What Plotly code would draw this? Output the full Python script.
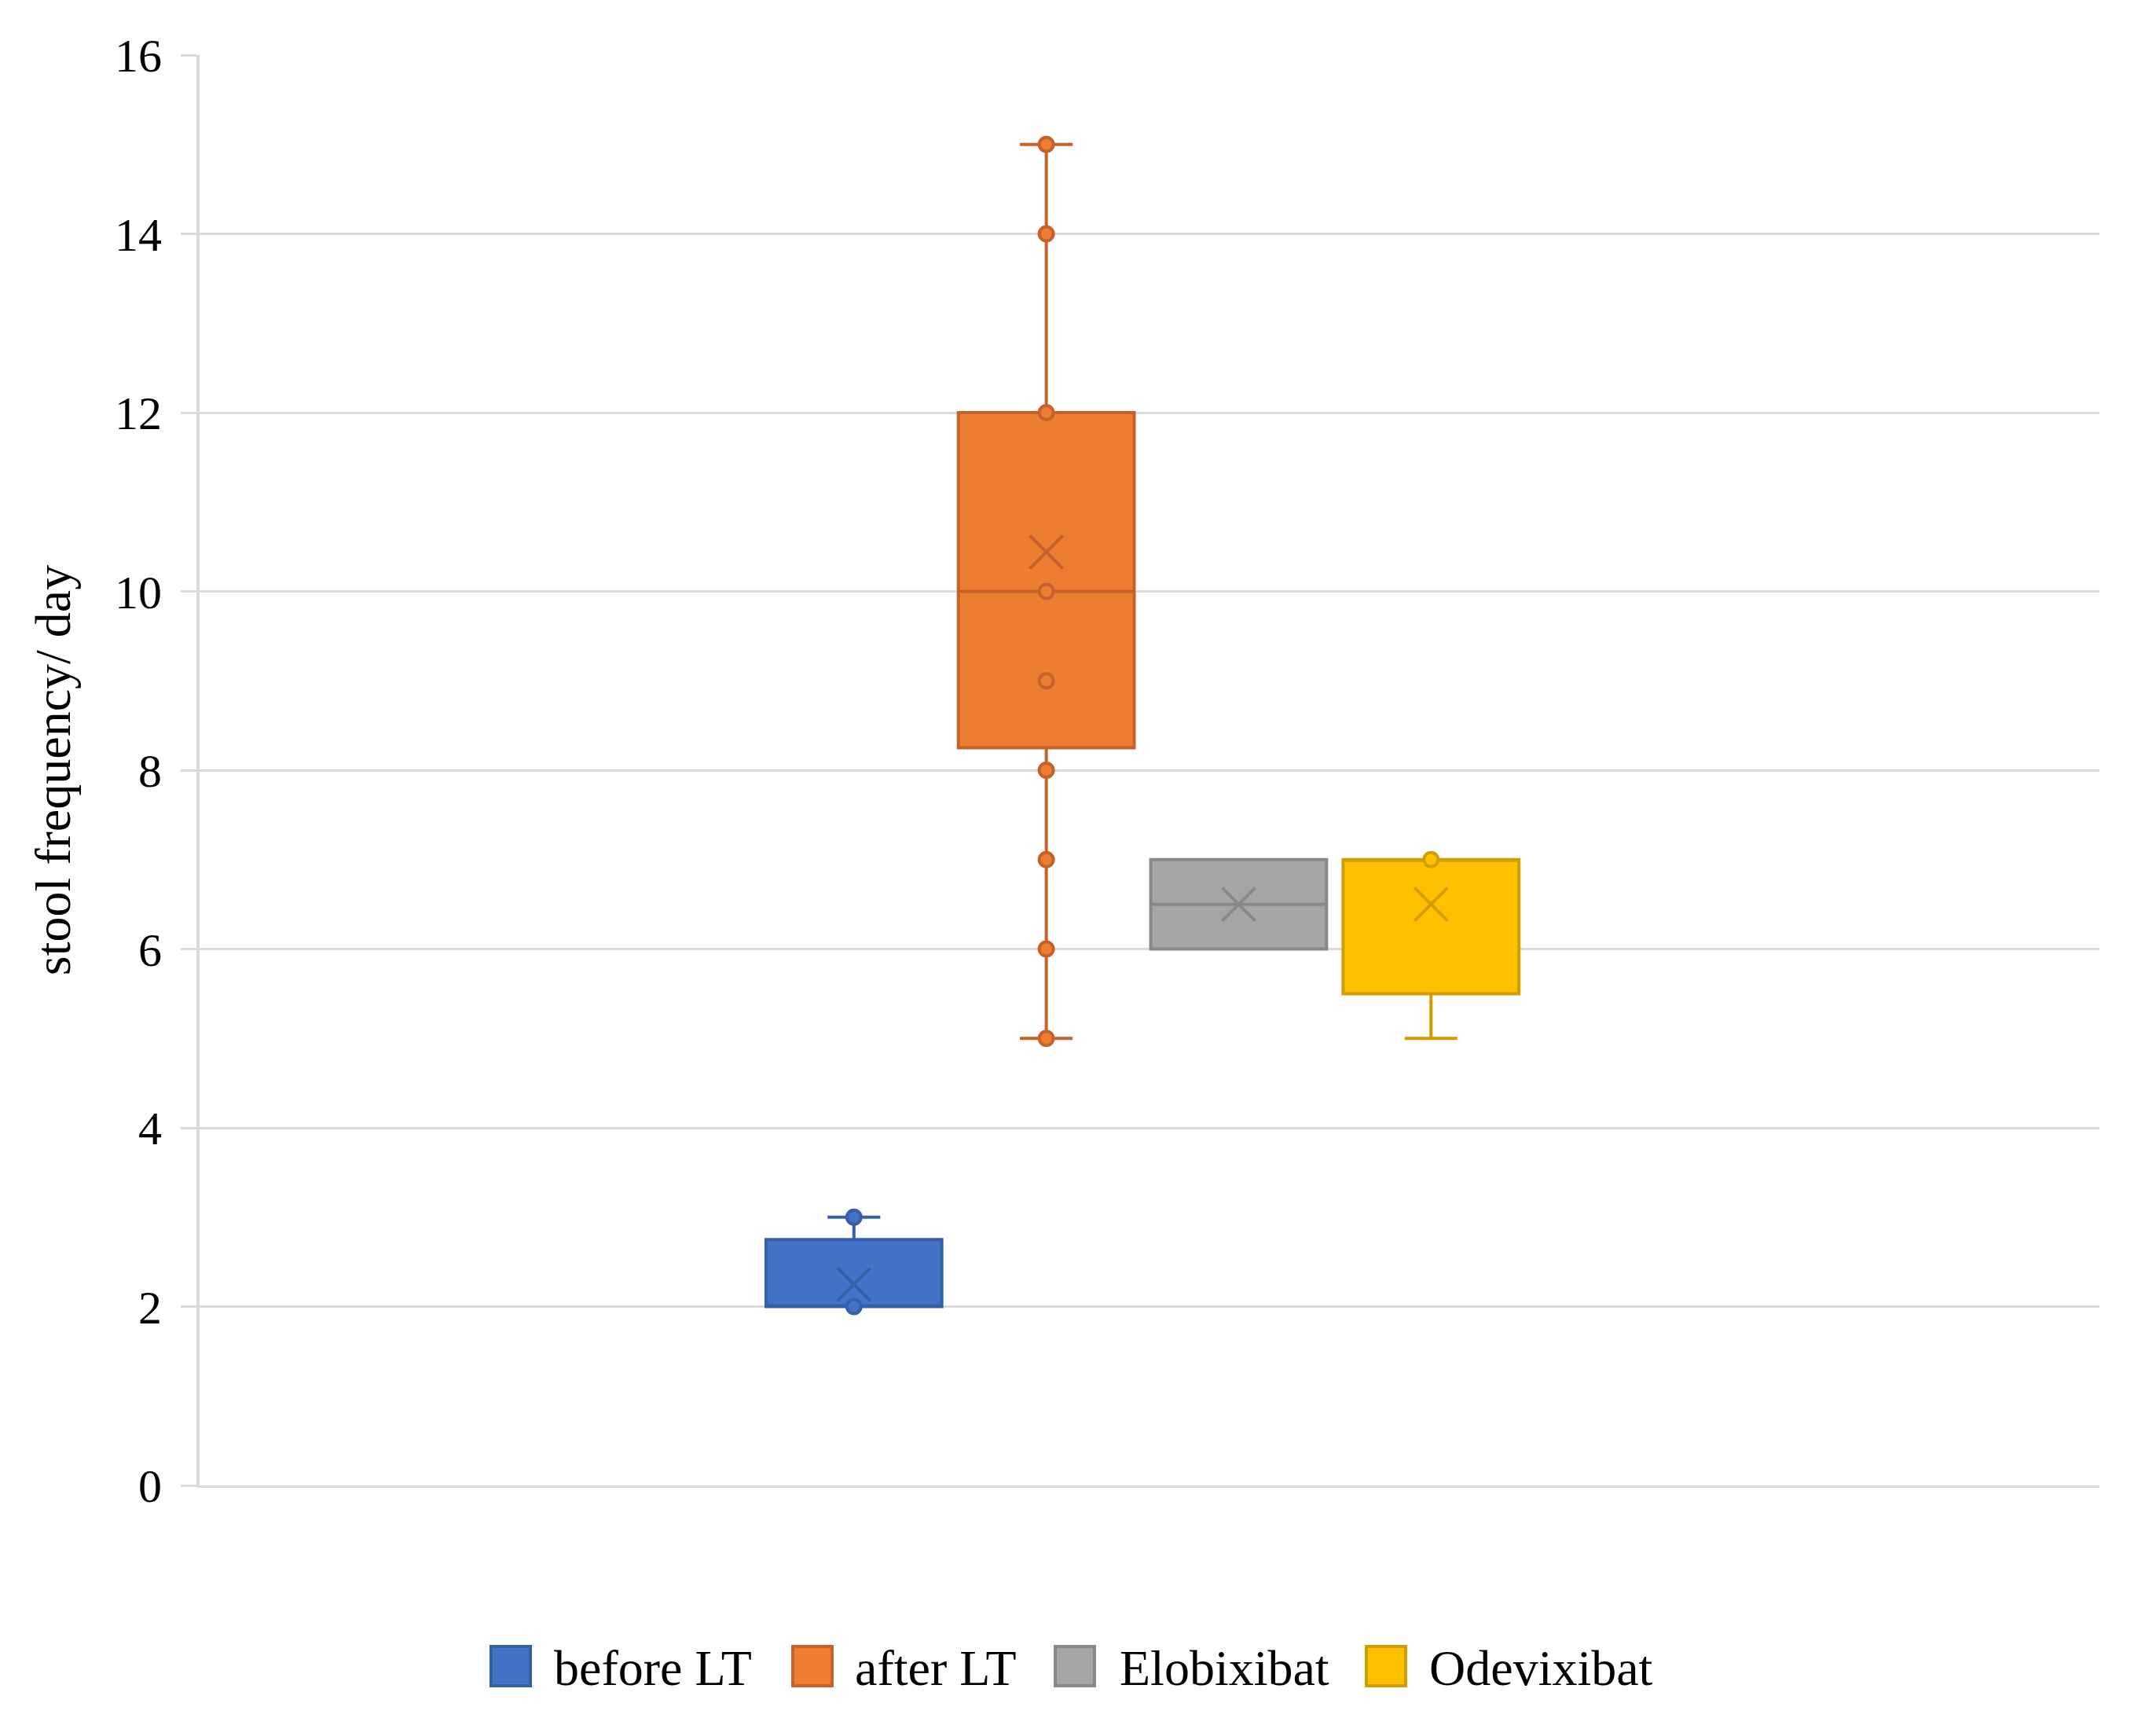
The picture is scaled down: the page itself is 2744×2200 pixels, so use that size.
import plotly.graph_objects as go

# box statistics
groups = ["before LT", "after LT", "Elobixibat", "Odevixibat"]
q1 = [2, 8.25, 6, 5.5]
median = [2, 10, 6.5, 7]
q3 = [2.75, 12, 7, 7]
lower = [2, 5, 6, 5]
upper = [3, 15, 7, 7]
means = [2.25, 10.44, 6.5, 6.5]
# individual points drawn on each box
points = [[2, 3], [5, 6, 7, 8, 9, 10, 12, 14, 15], [], [7]]

fills = ["#4472C4", "#ED7D31", "#A5A5A5", "#FFC000"]
edges = ["#3560A8", "#C4622A", "#898989", "#D09E00"]

CAT = "1"
FONT = "Liberation Serif"

# plot area in page pixels (page body adds an 8px offset)
L, R, T, B = 246, 80, 62, 318
W, H = 2744, 2200
PW, PH = W - L - R, H - T - B


def px_x(sx):
    return (sx - 8 - L) / PW


def px_y(sy):
    return (H - B - (sy - 8)) / PH


fig = go.Figure()
for i, name in enumerate(groups):
    fig.add_trace(go.Box(
        x=[CAT], q1=[q1[i]], median=[median[i]], q3=[q3[i]],
        lowerfence=[lower[i]], upperfence=[upper[i]],
        name=name, offsetgroup=name,
        fillcolor=fills[i], line=dict(color=edges[i], width=4),
        whiskerwidth=0.3, boxpoints=False,
    ))
    # mean shown as an X
    fig.add_trace(go.Box(
        x=[CAT], y=[means[i]], name=name, offsetgroup=name,
        boxpoints="all", jitter=0, pointpos=0,
        fillcolor="rgba(0,0,0,0)", line=dict(width=0),
        marker=dict(symbol="x-thin", size=42, color=edges[i],
                    line=dict(color=edges[i], width=4)),
    ))
    if points[i]:
        fig.add_trace(go.Box(
            x=[CAT] * len(points[i]), y=points[i], name=name, offsetgroup=name,
            boxpoints="all", jitter=0, pointpos=0,
            fillcolor="rgba(0,0,0,0)", line=dict(width=0),
            marker=dict(symbol="circle", size=18, color=fills[i],
                        line=dict(color=edges[i], width=4)),
        ))

# legend drawn by hand so the swatches can be as large as in the original
icon_cx = [650, 1034, 1368, 1764]
text_x = [703, 1086, 1423, 1817]
leg_y = 2120
for i, name in enumerate(groups):
    fig.add_shape(
        type="rect", xref="paper", yref="paper",
        x0=px_x(icon_cx[i] - 25), x1=px_x(icon_cx[i] + 25),
        y0=px_y(leg_y + 25), y1=px_y(leg_y - 25),
        fillcolor=fills[i], line=dict(color=edges[i], width=4),
    )
    fig.add_annotation(
        text=name, xref="paper", yref="paper",
        x=px_x(text_x[i]), y=px_y(leg_y + 2),
        xanchor="left", yanchor="middle", showarrow=False,
        font=dict(family=FONT, size=64, color="black"),
    )

fig.update_layout(
    width=W,
    height=H,
    boxmode="group",
    boxgap=0.595,
    boxgroupgap=0.086,
    paper_bgcolor="white",
    plot_bgcolor="white",
    margin=dict(l=L, r=R, t=T, b=B),
    font=dict(family=FONT, size=60, color="black"),
    showlegend=False,
)

fig.update_xaxes(
    type="category",
    range=[-0.4963, 0.5037],
    showticklabels=False,
    showgrid=False,
    showline=True,
    linecolor="#D9D9D9",
    linewidth=3,
    automargin=False,
)

fig.update_yaxes(
    range=[0, 16],
    dtick=2,
    showgrid=True,
    gridcolor="#D9D9D9",
    gridwidth=3,
    showline=True,
    linecolor="#D9D9D9",
    linewidth=4,
    ticks="outside",
    ticklen=20,
    tickwidth=3,
    tickcolor="#D9D9D9",
    ticklabelstandoff=12,
    tickfont=dict(size=60),
    zeroline=False,
    automargin=False,
    title=dict(text="stool frequency/ day", standoff=37, font=dict(size=64)),
)

fig.write_html("out.html")
